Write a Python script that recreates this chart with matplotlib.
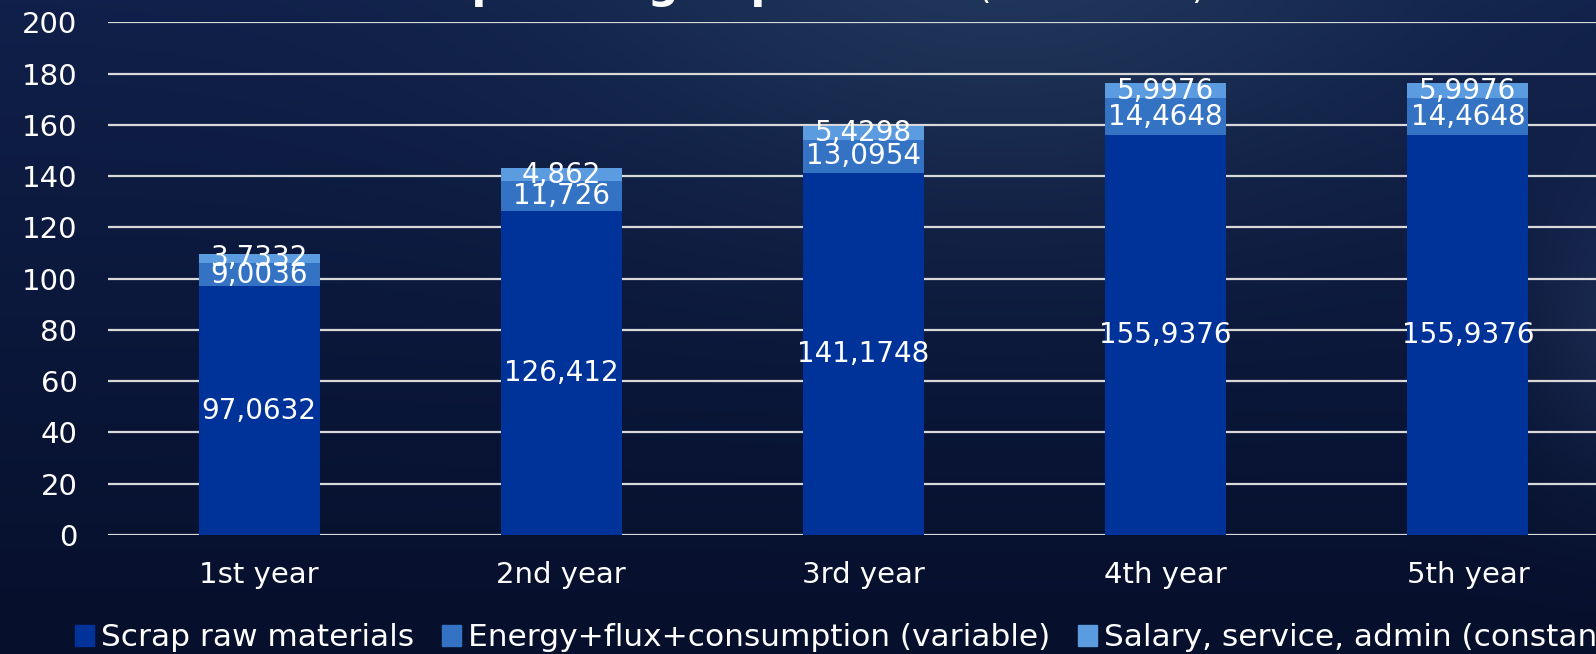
import numpy as np
import matplotlib
matplotlib.use("Agg")
import matplotlib.pyplot as plt
from matplotlib.patches import Patch

years = ["1st year", "2nd year", "3rd year", "4th year", "5th year"]
scrap = [97.0632, 126.412, 141.1748, 155.9376, 155.9376]
energy = [9.0036, 11.726, 13.0954, 14.4648, 14.4648]
salary = [3.7332, 4.862, 5.4298, 5.9976, 5.9976]
series_names = ["Scrap raw materials",
                "Energy+flux+consumption (variable)",
                "Salary, service, admin (constant)"]
yticks = [0, 20, 40, 60, 80, 100, 120, 140, 160, 180, 200]

colors = ["#003399", "#3473c4", "#5b9be0"]

plt.rcParams["font.family"] = ["DejaVu Sans"]

W, H = 1596, 654
fig = plt.figure(figsize=(W / 100, H / 100), dpi=100)

# dark navy backdrop with a soft glow near the top
yy, xx = np.mgrid[0:H, 0:W]
top = np.array([0x10, 0x20, 0x4a]) / 255
bottom = np.array([0x06, 0x0f, 0x2b]) / 255
t = (yy / H)[..., None]
img = top * (1 - t) + bottom * t
glow = np.exp(-(((xx - 1000) / 420) ** 2 + ((yy + 40) / 260) ** 2))[..., None]
img = img + glow * (np.array([0x22, 0x38, 0x5c]) / 255 - top) * 0.9
side = np.exp(-(((xx - 1640) / 110) ** 2 + ((yy - 330) / 150) ** 2))[..., None]
img = img + side * np.array([0.06, 0.07, 0.08])
img = np.clip(img, 0, 1)
bg = fig.add_axes([0, 0, 1, 1], zorder=-1)
bg.imshow(img, aspect="auto", interpolation="bilinear")
bg.axis("off")

ax = fig.add_axes([108 / W, 1 - 535 / H, 5 * 302.2 / W, 512.6 / H])
ax.set_facecolor("none")

x = np.arange(len(years))
bw = 0.4
ax.bar(x, scrap, bw, color=colors[0], zorder=2)
ax.bar(x, energy, bw, bottom=scrap, color=colors[1], zorder=2)
base3 = np.array(scrap) + np.array(energy)
ax.bar(x, salary, bw, bottom=base3, color=colors[2], zorder=2)

def lab(v):
    return str(v).replace(".", ",")

for i in range(len(years)):
    ax.text(x[i], scrap[i] / 2, lab(scrap[i]), ha="center", va="center",
            color="white", fontsize=20, zorder=3)
    ax.text(x[i], scrap[i] + energy[i] / 2, lab(energy[i]), ha="center",
            va="center", color="white", fontsize=20, zorder=3)
    ax.text(x[i], base3[i] + salary[i] / 2, lab(salary[i]), ha="center",
            va="center", color="white", fontsize=20, zorder=3)

ax.set_xlim(-0.5, 4.5)
ax.set_ylim(0, 200)
ax.set_yticks(yticks)
ax.set_xticks(x)
ax.set_xticklabels(years)
ax.tick_params(axis="both", length=0, colors="white")
ax.tick_params(axis="x", pad=19, labelsize=21)
ax.tick_params(axis="y", pad=22, labelsize=21)
ax.grid(axis="y", color="#d9d9d9", linewidth=1.6, zorder=1)
ax.set_axisbelow(True)
for s in ax.spines.values():
    s.set_visible(False)

# title runs off the top edge
fig.text(435 / W, 1.0 + 2 / H, "Operating expenses", fontsize=31,
         fontweight="bold", color="white", va="baseline", ha="left")
fig.text(978 / W, 1.0 + 2 / H, "(million USD)", fontsize=25,
         color="white", va="baseline", ha="left")

handles = [Patch(color=c) for c in colors]
fig.legend(handles, series_names, loc="center left",
           bbox_to_anchor=(75 / W, 1 - 638 / H), ncol=3, frameon=False,
           fontsize=22.5, labelcolor="white", handlelength=0.62,
           handleheight=0.62, handletextpad=0.2, columnspacing=0.9,
           borderpad=0, borderaxespad=0)

fig.savefig("out.png", dpi=100)
